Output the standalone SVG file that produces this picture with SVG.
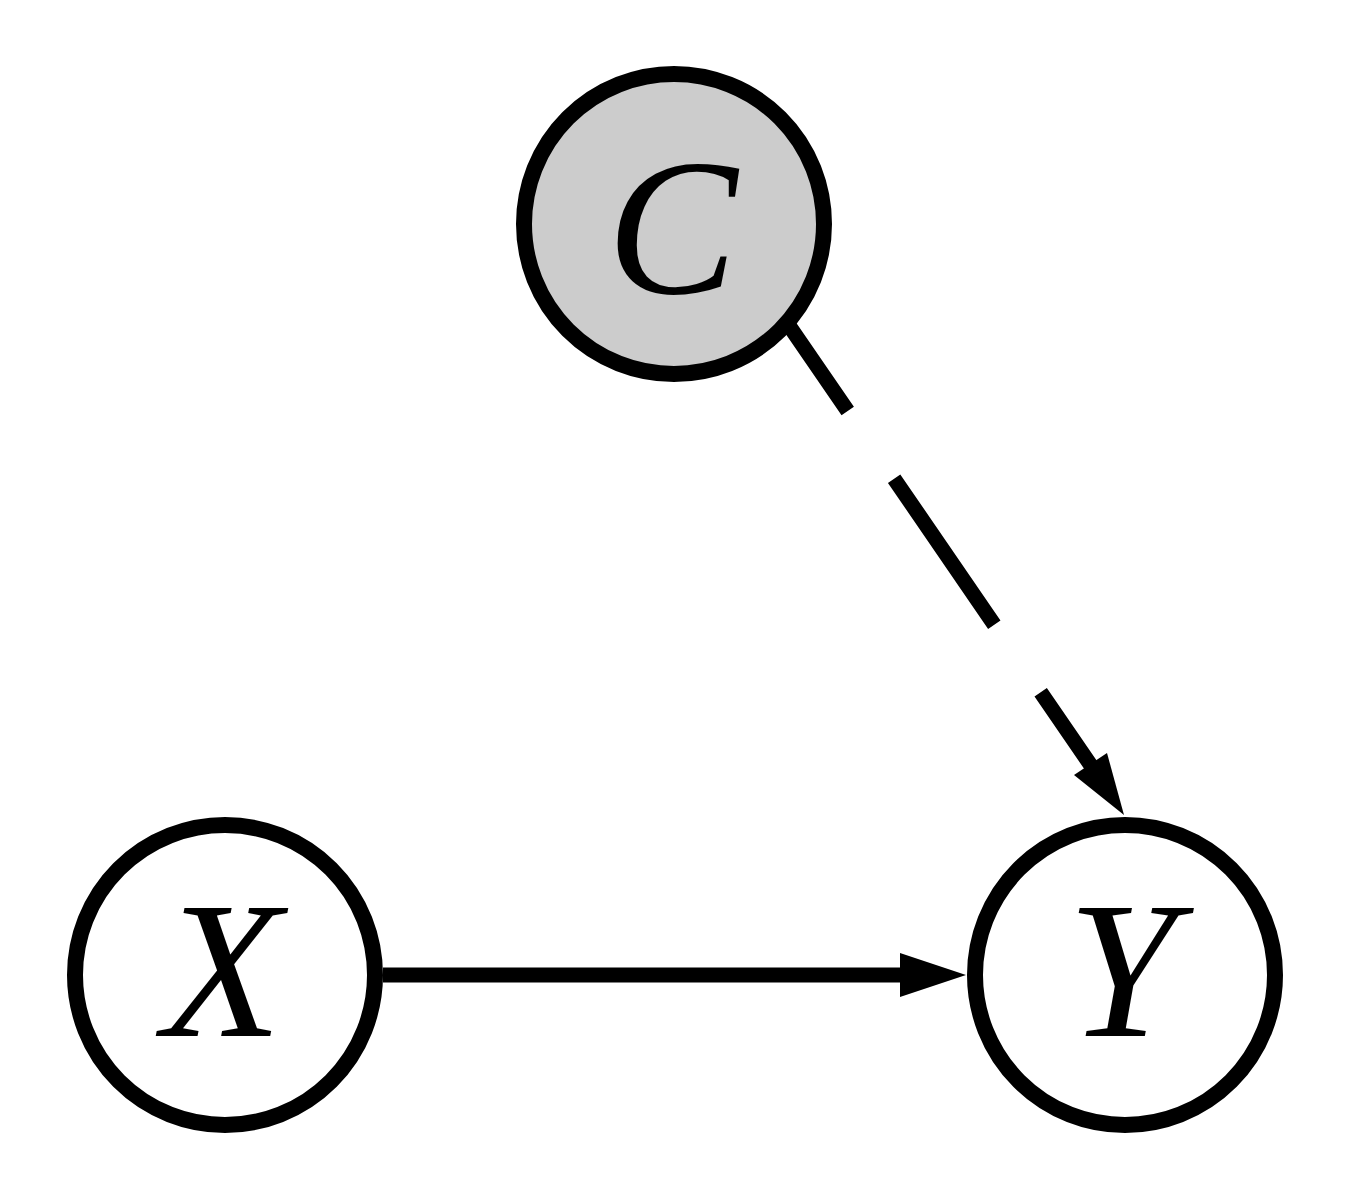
<svg xmlns="http://www.w3.org/2000/svg" width="1350" height="1200" viewBox="0 0 1350 1200">
<style>
.node{stroke:#000;stroke-width:16}
.lbl{font-family:"Liberation Serif","DejaVu Serif",serif;font-style:italic;font-size:196px;text-anchor:middle;fill:#000}
.edge{stroke:#000;stroke-width:15;fill:none}
</style>
<rect width="1350" height="1200" fill="#fff"/>
<g id="connectors">
<line class="edge" x1="383" y1="975" x2="902" y2="975"/>
<polygon points="900,953 966,975 900,997" fill="#000"/>
<line class="edge" x1="790" y1="327" x2="1092" y2="767" stroke-dasharray="177 82" stroke-dashoffset="75"/>
<polygon points="1074,775 1107,753 1124,815" fill="#000"/>
</g>
<g id="node-C">
<circle class="node" cx="674" cy="224" r="150" fill="#cccccc"/>
<text class="lbl" x="672" y="293">C</text>
</g>
<g id="node-X">
<circle class="node" cx="225" cy="975" r="150" fill="#fff"/>
<text class="lbl" x="222" y="1036">X</text>
</g>
<g id="node-Y">
<circle class="node" cx="1125" cy="975" r="150" fill="#fff"/>
<text class="lbl" x="1122" y="1036">Y</text>
</g>
</svg>
